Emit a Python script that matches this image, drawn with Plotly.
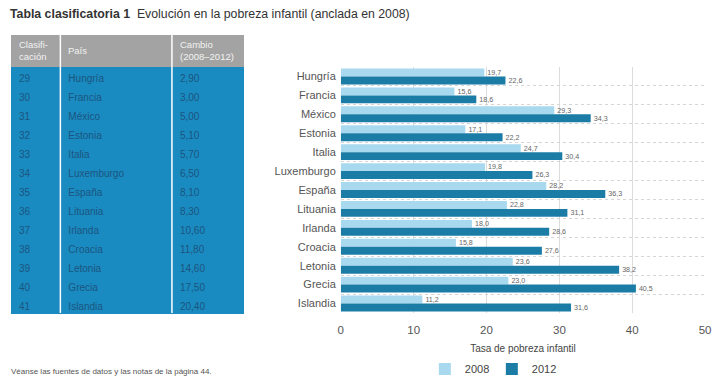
import plotly.graph_objects as go

ranks = [29, 30, 31, 32, 33, 34, 35, 36, 37, 38, 39, 40, 41]
countries = ["Hungría", "Francia", "México", "Estonia", "Italia", "Luxemburgo", "España",
             "Lituania", "Irlanda", "Croacia", "Letonia", "Grecia", "Islandia"]
change = [2.90, 3.00, 5.00, 5.10, 5.70, 6.50, 8.10, 8.30, 10.60, 11.80, 14.60, 17.50, 20.40]
v2008 = [19.7, 15.6, 29.3, 17.1, 24.7, 19.8, 28.2, 22.8, 18.0, 15.8, 23.6, 23.0, 11.2]
v2012 = [22.6, 18.6, 34.3, 22.2, 30.4, 26.3, 36.3, 31.1, 28.6, 27.6, 38.2, 40.5, 31.6]
xticks = [0, 10, 20, 30, 40, 50]
header_labels = ["Clasifi-<br>cación", "País", "Cambio<br>(2008–2012)"]

# page body has an 8px margin, so the figure is placed at (8, 8)
OX, OY = 8, 8
W, H = 712, 376
def px_x(x): return (x - OX) / W
def px_y(y): return 1 - (y - OY) / H

BLUE = "#1a8bc1"
GRAY = "#a3a3a3"
LIGHT = "#a9d9ef"
DARK = "#1b7ca6"

change_txt = [f"{c:.2f}".replace(".", ",") for c in change]

fig = go.Figure()

col_w = [50, 113, 72]
tx0, tx1 = 8, 243
hy0, hy1 = 35, 66      # header band
by1 = 313              # table bottom
fig.add_trace(go.Table(
    domain=dict(x=[px_x(tx0), px_x(tx1)], y=[px_y(by1 + 4), px_y(hy0)]),
    columnwidth=col_w,
    header=dict(values=["", "", ""], height=hy1 - hy0,
                fill_color=GRAY, line_color=GRAY),
    cells=dict(
        values=[ranks, countries, change_txt],
        fill_color=BLUE, line_color=BLUE, height=19,
        font=dict(family="Liberation Sans, Arial", size=10, color="#1b5580"),
        align="left"),
))

fig.add_trace(go.Bar(
    name="2008", y=countries, x=v2008, orientation="h",
    marker=dict(color=LIGHT, line_width=0),
    texttemplate="%{x:.1f}", textposition="outside", cliponaxis=False,
    textfont=dict(size=9, color="#666"),
))
fig.add_trace(go.Bar(
    name="2012", y=countries, x=v2012, orientation="h",
    marker=dict(color=DARK, line_width=0),
    texttemplate="%{x:.1f}", textposition="outside", cliponaxis=False,
    textfont=dict(size=9, color="#666"),
))

annotations = [
    dict(text="<b>Tabla clasificatoria 1</b>  Evolución en la pobreza infantil (anclada en 2008)",
         xref="paper", yref="paper", x=px_x(5), y=px_y(14), xanchor="left", yanchor="middle",
         showarrow=False, font=dict(size=12.3, color="#333")),
    dict(text="Véanse las fuentes de datos y las notas de la página 44.",
         xref="paper", yref="paper", x=px_x(6), y=px_y(371), xanchor="left", yanchor="middle",
         showarrow=False, font=dict(size=8, color="#555")),
]

# column separators and header labels
tot = sum(col_w)
edges = [tx0]
acc = 0
for w in col_w:
    acc += w
    edges.append(tx0 + (tx1 - tx0) * acc / tot)
for i, lab in enumerate(header_labels):
    annotations.append(dict(text=lab, xref="paper", yref="paper",
                            x=px_x(edges[i] + 6), y=px_y((hy0 + hy1) / 2),
                            xanchor="left", yanchor="middle", align="left",
                            showarrow=False,
                            font=dict(family="Liberation Sans, Arial", size=9.5, color="#f2f2f2")))
for xs in edges[1:-1]:
    fig.add_shape(type="line", xref="paper", yref="paper", layer="above",
                  x0=px_x(xs), x1=px_x(xs), y0=px_y(by1), y1=px_y(hy0),
                  line=dict(color="white", width=1.5))

fig.update_layout(
    width=W, height=H,
    margin=dict(l=0, r=0, t=0, b=0),
    paper_bgcolor="white", plot_bgcolor="white",
    separators=",.",
    barmode="group", bargap=0.16, bargroupgap=0,
    font=dict(family="Liberation Sans, Arial", color="#444"),
    xaxis=dict(domain=[px_x(342), px_x(711)], range=[0, 50], tickvals=xticks,
               showgrid=True, gridcolor="#dcdcdc", gridwidth=1, zeroline=False,
               tickfont=dict(size=11.5, color="#555"), ticks="", ticklen=0,
               ticklabelstandoff=8,
               title=dict(text="Tasa de pobreza infantil", font=dict(size=10, color="#444"),
                          standoff=10)),
    yaxis=dict(domain=[px_y(313), px_y(67)], autorange="reversed",
               tickson="boundaries", showgrid=True, gridcolor="#d5d5d5", griddash="dot",
               tickfont=dict(size=11, color="#555"), ticks="", ticklabelstandoff=4),
    legend=dict(orientation="h", x=px_x(495), xanchor="center", y=px_y(369), yanchor="middle",
                font=dict(size=11, color="#444"), itemwidth=30,
                entrywidth=22, entrywidthmode="pixels"),
    annotations=annotations,
)

fig.write_html("out.html")
